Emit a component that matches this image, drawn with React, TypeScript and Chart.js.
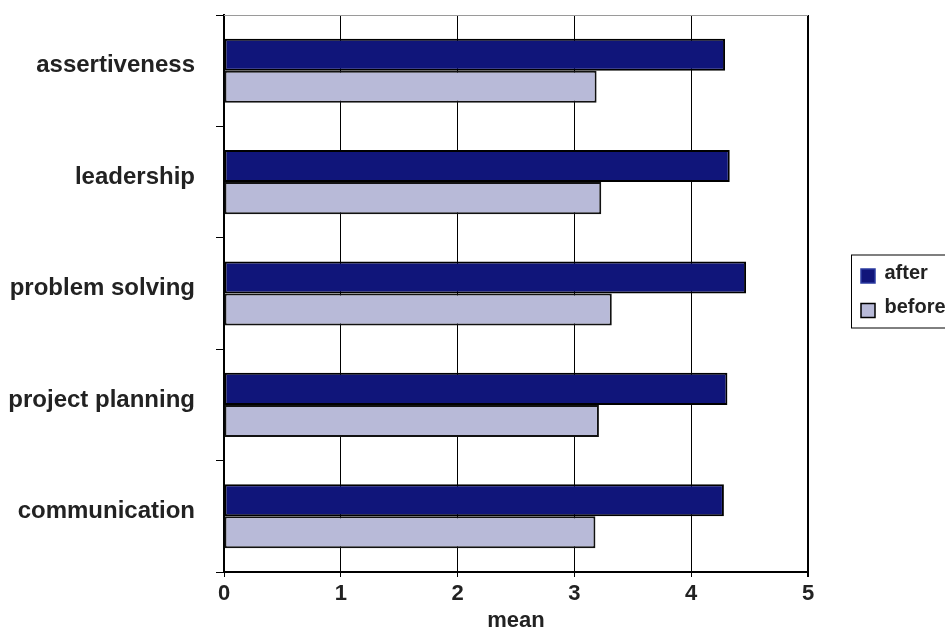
import React, { useEffect, useRef } from "react";
import { Chart, registerables } from "chart.js";

Chart.register(...registerables);

const categories = ["assertiveness", "leadership", "problem solving", "project planning", "communication"];
const afterValues = [4.29, 4.33, 4.47, 4.31, 4.28];
const beforeValues = [3.19, 3.23, 3.32, 3.21, 3.18];
const seriesNames = ["after", "before"];
const xAxisTitle = "mean";
const xMin = 0;
const xMax = 5;

const AFTER_FILL = "#10157A";
const BEFORE_FILL = "#B8BAD8";
const TEXT = "#222222";
const FONT = "'Liberation Sans', Arial, sans-serif";

const framePlugin = {
  id: "frame",
  afterDatasetsDraw(chart: any) {
    const { ctx, chartArea } = chart;
    ctx.save();
    ctx.strokeStyle = "#9a9a9a";
    ctx.lineWidth = 1;
    ctx.beginPath();
    ctx.moveTo(chartArea.left, chartArea.top + 0.5);
    ctx.lineTo(chartArea.right, chartArea.top + 0.5);
    ctx.stroke();
    ctx.restore();
  },
};

const legendPlugin = {
  id: "boxLegend",
  afterDraw(chart: any) {
    const { ctx, chartArea } = chart;
    const x0 = chartArea.right + 43.5;
    const yMid = (chartArea.top + chartArea.bottom) / 2;
    const y0 = yMid - 38.5;
    ctx.save();
    ctx.strokeStyle = "#000";
    ctx.lineWidth = 1;
    ctx.strokeRect(x0, y0, 200, 73);
    const fills = [AFTER_FILL, BEFORE_FILL];
    const strokes = ["#2a3aa0", "#000"];
    ctx.font = `bold 20px ${FONT}`;
    ctx.textBaseline = "middle";
    seriesNames.forEach((name, i) => {
      const sy = y0 + 14 + i * 34.5;
      ctx.fillStyle = fills[i];
      ctx.fillRect(x0 + 9.5, sy, 14, 14);
      ctx.strokeStyle = strokes[i];
      ctx.lineWidth = 1.5;
      ctx.strokeRect(x0 + 9.5, sy, 14, 14);
      ctx.fillStyle = TEXT;
      ctx.fillText(name, x0 + 33, sy + 4);
    });
    ctx.restore();
  },
};

export default function App() {
  const ref = useRef<HTMLCanvasElement>(null);

  useEffect(() => {
    if (!ref.current) return;
    const chart = new Chart(ref.current, {
      type: "bar",
      data: {
        labels: categories,
        datasets: [
          {
            label: seriesNames[0],
            data: afterValues,
            backgroundColor: AFTER_FILL,
            borderColor: "#000000",
            borderWidth: 2,
            borderSkipped: false,
            categoryPercentage: 0.575,
            barPercentage: 1,
          },
          {
            label: seriesNames[1],
            data: beforeValues,
            backgroundColor: BEFORE_FILL,
            borderColor: "#111111",
            borderWidth: 2,
            borderSkipped: false,
            categoryPercentage: 0.575,
            barPercentage: 1,
          },
        ],
      },
      options: {
        indexAxis: "y",
        responsive: false,
        animation: false,
        layout: { padding: { top: 15, right: 137, left: 0, bottom: 0 } },
        plugins: {
          legend: { display: false },
          tooltip: { enabled: false },
        },
        scales: {
          x: {
            type: "linear",
            min: xMin,
            max: xMax,
            afterFit: (scale: any) => {
              scale.height = 58;
              scale.paddingLeft = 0;
              scale.paddingRight = 0;
            },
            ticks: {
              stepSize: 1,
              padding: 4,
              color: TEXT,
              font: { family: FONT, size: 22, weight: "bold" },
            },
            grid: {
              color: "#000",
              lineWidth: (ctx: any) => (ctx.tick && ctx.tick.value === xMax ? 2 : 1),
              tickLength: 5,
              drawOnChartArea: true,
            },
            border: { display: true, color: "#000", width: 2 },
            title: {
              display: true,
              text: xAxisTitle,
              color: TEXT,
              font: { family: FONT, size: 22, weight: "bold" },
              padding: { top: 0, bottom: -4 },
            },
          },
          y: {
            type: "category",
            afterFit: (scale: any) => {
              scale.width = 224;
              scale.paddingTop = 0;
              scale.paddingBottom = 0;
            },
            ticks: {
              padding: 21,
              labelOffset: -5,
              color: TEXT,
              font: { family: FONT, size: 24, weight: "bold" },
            },
            grid: {
              offset: true,
              drawOnChartArea: false,
              color: "#000",
              lineWidth: 1,
              tickLength: 8,
            },
            border: { display: true, color: "#000", width: 2 },
          },
        },
      },
      plugins: [framePlugin, legendPlugin],
    } as any);
    return () => chart.destroy();
  }, []);

  return (
    <div style={{ position: "fixed", left: 0, top: 0, width: 945, height: 630, background: "#fff", overflow: "hidden" }}>
      <canvas ref={ref} width={945} height={630} style={{ display: "block" }} />
    </div>
  );
}
